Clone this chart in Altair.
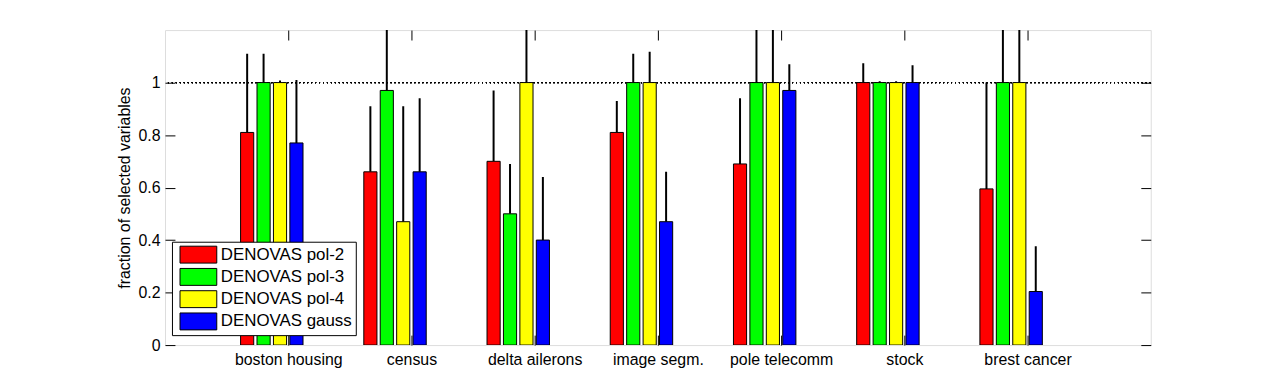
import json
import altair as alt
import pandas as pd

categories = ["boston housing", "census", "delta ailerons", "image segm.",
              "pole telecomm", "stock", "brest cancer"]
series = ["DENOVAS pol-2", "DENOVAS pol-3", "DENOVAS pol-4", "DENOVAS gauss"]
colors = ["#FF0000", "#00FF00", "#FFFF00", "#0000FF"]

# mean fraction of selected variables
pol2 = [0.81, 0.66, 0.70, 0.81, 0.69, 1.00, 0.595]
pol3 = [1.00, 0.97, 0.50, 1.00, 1.00, 1.00, 1.00]
pol4 = [1.00, 0.47, 1.00, 1.00, 1.00, 1.00, 1.00]
gauss = [0.77, 0.66, 0.40, 0.47, 0.97, 1.00, 0.204]

# standard deviation (upper error bar length)
pol2_err = [0.30, 0.25, 0.27, 0.12, 0.25, 0.074, 0.405]
pol3_err = [0.11, 0.35, 0.19, 0.11, 0.30, 0.005, 0.30]
pol4_err = [0.008, 0.44, 0.30, 0.117, 0.30, 0.005, 0.30]
gauss_err = [0.24, 0.28, 0.24, 0.19, 0.10, 0.066, 0.172]

y_ticks = [0, 0.2, 0.4, 0.6, 0.8, 1]

values = [pol2, pol3, pol4, gauss]
errors = [pol2_err, pol3_err, pol4_err, gauss_err]

# MATLAB-like grouped bar geometry (6 slots per group, 4 used)
slot = 0.8 / 6
half = 0.4 * slot
rows = []
for i, cat in enumerate(categories):
    for k, s in enumerate(series):
        c = i + 1 + (k - 2.5) * slot
        v = values[k][i]
        rows.append({"category": cat, "series": s, "pos": c,
                     "x0": c - half, "x1": c + half,
                     "value": v, "upper": v + errors[k][i]})
df = pd.DataFrame(rows)

FONT = "Liberation Sans"
xscale = alt.Scale(domain=[0, 8], nice=False, zero=False)
yscale = alt.Scale(domain=[0, 1.2], nice=False)
label_expr = json.dumps(categories) + "[round(datum.value) - 1]"

dotted = alt.Chart(df).mark_rule(color="black", strokeWidth=1, strokeDash=[1, 3]).encode(
    y=alt.datum(1, scale=yscale, axis=None)
)

err = alt.Chart(df).mark_rule(color="black", strokeWidth=2, clip=True).encode(
    x=alt.X("pos:Q", scale=xscale,
            axis=alt.Axis(orient="top", values=list(range(1, 8)), labels=False,
                          domain=False, grid=False, ticks=True, tickSize=10,
                          offset=-10, tickColor="black", title=None)),
    y=alt.Y("value:Q", scale=yscale,
            axis=alt.Axis(orient="right", values=y_ticks, labels=False,
                          domain=False, grid=False, tickSize=10, offset=-10,
                          tickColor="black", title=None)),
    y2="upper:Q",
)

# wide rectangular swatch: path spans 2x the nominal symbol size horizontally
sw = 18.5
bars = alt.Chart(df).mark_bar(stroke="black", strokeWidth=1, clip=True).encode(
    x=alt.X("x0:Q", scale=xscale,
            axis=alt.Axis(orient="bottom", values=list(range(1, 8)),
                          labelExpr=label_expr, domain=False, grid=False,
                          tickSize=10, offset=-10, tickColor="black",
                          labelFont=FONT, labelFontSize=16, labelColor="black",
                          labelPadding=7, labelFlush=False, labelOverlap=False,
                          title=None)),
    x2="x1:Q",
    y=alt.Y("value:Q", scale=yscale,
            axis=alt.Axis(orient="left", values=y_ticks, format="~g",
                          domain=False, grid=False, tickSize=10, offset=-10,
                          tickColor="black", labelFont=FONT, labelFontSize=16,
                          labelColor="black", labelPadding=5,
                          title="fraction of selected variables",
                          titleFont=FONT, titleFontSize=16, titleFontWeight="normal",
                          titleColor="black", titlePadding=5)),
    y2=alt.datum(0),
    color=alt.Color("series:N", sort=series,
                    scale=alt.Scale(domain=series, range=colors),
                    legend=alt.Legend(orient="none", legendX=7, legendY=213,
                                      title=None, fillColor="white",
                                      strokeColor="black", padding=3,
                                      symbolType="M-2,-0.92H2V0.92H-2Z",
                                      symbolSize=sw * sw, symbolOffset=13.6,
                                      symbolStrokeColor="black",
                                      symbolStrokeWidth=1, symbolOpacity=1,
                                      labelFont=FONT, labelFontSize=17,
                                      labelColor="black", labelOffset=12.5,
                                      rowPadding=0.4, labelLimit=400)),
)

chart = alt.layer(dotted, err, bars).resolve_axis(
    x="independent", y="independent"
).properties(
    width=992, height=317,
    padding={"left": 158, "top": 21, "right": 122, "bottom": 43},
    autosize=alt.AutoSizeParams(type="none"),
).configure_view(stroke="black", strokeWidth=1).configure(background="white")

chart.save("out.html", embed_options={"renderer": "svg", "actions": False})
